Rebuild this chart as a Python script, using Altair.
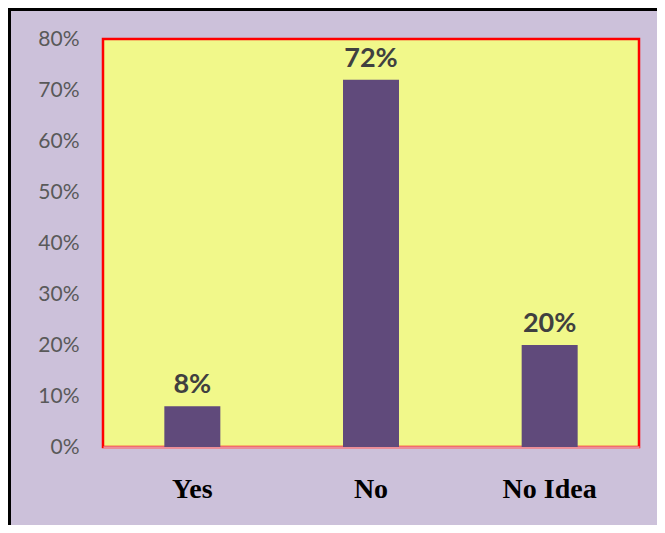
import altair as alt
import pandas as pd

categories = ["Yes", "No", "No Idea"]
percents = [8, 72, 20]
y_ticks = [0, 0.1, 0.2, 0.3, 0.4, 0.5, 0.6, 0.7, 0.8]

df = pd.DataFrame({"answer": categories, "pct": percents})
df["share"] = df["pct"] / 100.0
df["label"] = [f"{p}%" for p in percents]

LAVENDER = "#CCC1DA"
YELLOW = "#F1F88A"
PURPLE = "#604A7B"

x_enc = alt.X(
    "answer:N", sort=categories, title=None,
    scale=alt.Scale(paddingInner=0, paddingOuter=0),
    axis=alt.Axis(labelAngle=0, labelFont="Liberation Serif", labelFontWeight="bold",
                  labelFontSize=28, labelColor="black", ticks=False,
                  domainColor="#EC8E97", domainWidth=2.5, labelPadding=42,
                  labelBaseline="middle"),
)
y_enc = alt.Y(
    "share:Q", title=None,
    scale=alt.Scale(domain=[0, 0.8], nice=False),
    axis=alt.Axis(format=".0%", values=y_ticks, grid=False, ticks=False, domain=False,
                  labelFont="Lato", labelFontSize=21, labelColor="#595959", labelPadding=24),
)

frame = alt.Chart(pd.DataFrame({"k": [0]})).mark_rect(
    filled=False, stroke="black", strokeWidth=3
).encode(x=alt.value(-93.5), x2=alt.value(1200), y=alt.value(-29.5), y2=alt.value(1200))

bars = alt.Chart(df).mark_bar(size=56, color=PURPLE).encode(x=x_enc, y=y_enc)

texts = alt.Chart(df).mark_text(
    dy=-7, baseline="bottom", font="Lato", fontWeight="bold", fontSize=27, color="#404040"
).encode(x=alt.X("answer:N", sort=categories), y="share:Q", text="label:N")

chart = alt.layer(frame, bars, texts).properties(
    width=536, height=408,
    background=LAVENDER,
    autosize=alt.AutoSizeParams(type="none"),
    padding={"left": 95, "top": 31, "right": 18, "bottom": 78},
).configure_view(fill=YELLOW, stroke="#FF0000", strokeWidth=2.5)

chart.save("out.html", embed_options={"renderer": "svg", "actions": False})
